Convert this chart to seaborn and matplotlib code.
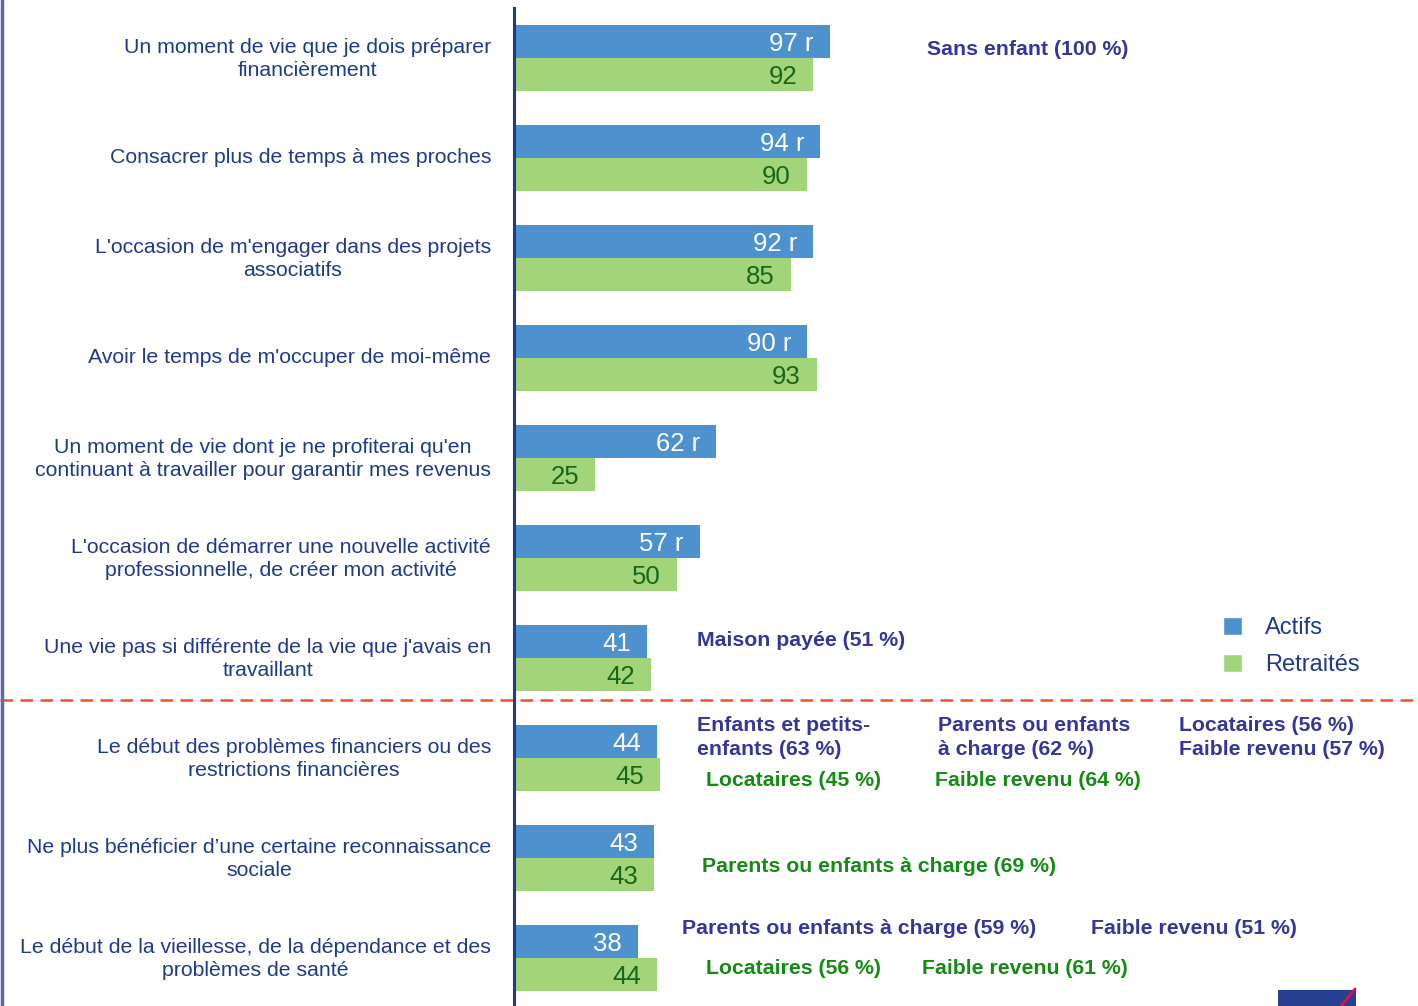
import pandas as pd
import matplotlib.pyplot as plt
import matplotlib.transforms as mtransforms
import seaborn as sns
from matplotlib.lines import Line2D
from matplotlib.patches import Rectangle, Patch

# ---------- DATA ----------
items = [
    "Un moment de vie que je dois préparer\nfinancièrement",
    "Consacrer plus de temps à mes proches",
    "L'occasion de m'engager dans des projets\nassociatifs",
    "Avoir le temps de m'occuper de moi-même",
    "Un moment de vie dont je ne profiterai qu'en\ncontinuant à travailler pour garantir mes revenus",
    "L'occasion de démarrer une nouvelle activité\nprofessionnelle, de créer mon activité",
    "Une vie pas si différente de la vie que j'avais en\ntravaillant",
    "Le début des problèmes financiers ou des\nrestrictions financières",
    "Ne plus bénéficier d’une certaine reconnaissance\nsociale",
    "Le début de la vieillesse, de la dépendance et des\nproblèmes de santé",
]
actifs = [97, 94, 92, 90, 62, 57, 41, 44, 43, 38]
retraites = [92, 90, 85, 93, 25, 50, 42, 45, 43, 44]
actifs_labels = ["97 r", "94 r", "92 r", "90 r", "62 r", "57 r", "41", "44", "43", "38"]
retraites_labels = [str(v) for v in retraites]
groups = ["Actifs", "Retraités"]

# sub-group notes: (text, x in %, y in category units, colour key)
notes = [
    ("Sans enfant (100 %)", 126.9, -0.10, "a"),
    ("Maison payée (51 %)", 56.2, 5.81, "a"),
    ("Enfants et petits-\nenfants (63 %)", 56.2, 6.775, "a"),
    ("Parents ou enfants\nà charge (62 %)", 130.3, 6.775, "a"),
    ("Locataires (56 %)\nFaible revenu (57 %)", 204.3, 6.775, "a"),
    ("Locataires (45 %)", 59.0, 7.21, "r"),
    ("Faible revenu (64 %)", 129.3, 7.21, "r"),
    ("Parents ou enfants à charge (69 %)", 57.8, 8.07, "r"),
    ("Parents ou enfants à charge (59 %)", 51.6, 8.69, "a"),
    ("Faible revenu (51 %)", 177.3, 8.69, "a"),
    ("Locataires (56 %)", 59.0, 9.09, "r"),
    ("Faible revenu (61 %)", 125.3, 9.09, "r"),
]

# ---------- STYLE ----------
BLUE = "#4d91ce"
GREEN = "#a2d47a"
DARK_BLUE = "#1f3a8a"
NOTE_BLUE = "#35359a"
NOTE_GREEN = "#158a15"
VAL_GREEN = "#17661a"

sns.set_style("white")
plt.rcParams["font.family"] = ["Liberation Sans", "DejaVu Sans"]

df = pd.DataFrame({
    "item": items * 2,
    "pct": actifs + retraites,
    "groupe": [groups[0]] * len(items) + [groups[1]] * len(items),
})

W, H = 1418, 1006
fig = plt.figure(figsize=(W / 100, H / 100), dpi=100)
ax = fig.add_axes([514 / W, -2 / H, 904 / W, 1000 / H])

sns.barplot(data=df, y="item", x="pct", hue="groupe", hue_order=groups,
            orient="h", palette=[BLUE, GREEN], saturation=1, width=0.66,
            linewidth=0, ax=ax, legend=False)

ax.set_xlim(0, 904 / 3.255)
ax.set_ylim(len(items) - 0.5, -0.5)
ax.set_xlabel("")
ax.set_ylabel("")
ax.xaxis.set_visible(False)
for side in ["top", "right", "bottom"]:
    ax.spines[side].set_visible(False)
ax.spines["left"].set_color(DARK_BLUE)
ax.spines["left"].set_linewidth(2.2)

# tick marks between categories, labels at centres
ax.set_yticks([i - 0.5 for i in range(len(items) + 1)], minor=True)
ax.tick_params(axis="y", which="minor", length=4.5, width=1.6, color=DARK_BLUE, direction="out")
ax.tick_params(axis="y", which="major", length=0, pad=16.5, labelsize=15.3, labelcolor=DARK_BLUE)
shift_up = mtransforms.ScaledTranslation(0, 2 / 72, fig.dpi_scale_trans)
for t in ax.get_yticklabels():
    t.set_multialignment("center")
    t.set_linespacing(1.24)
    t.set_transform(t.get_transform() + shift_up)

# ---------- VALUE LABELS ----------
for cont, labs, col in [(ax.containers[0], actifs_labels, "white"),
                        (ax.containers[1], retraites_labels, VAL_GREEN)]:
    anns = ax.bar_label(cont, labels=labs, padding=-11.5, color=col, fontsize=18.5)
    for a in anns:
        a.set_ha("right")
        a.set_va("center_baseline")

# ---------- NOTES ----------
for txt, x, y, c in notes:
    ax.text(x, y + 0.02, txt, color=NOTE_BLUE if c == "a" else NOTE_GREEN,
            fontsize=15.3, fontweight="bold", ha="left", va="center",
            linespacing=1.36, clip_on=False)

# ---------- LEGEND ----------
handles = [Patch(facecolor=BLUE), Patch(facecolor=GREEN)]
ax.legend(handles, groups, loc="upper left", bbox_to_anchor=(1211 / W, 1 - 605 / H),
          bbox_transform=fig.transFigure, frameon=False, fontsize=17,
          handlelength=0.8, handleheight=0.8, handletextpad=1.0,
          labelspacing=0.62, borderpad=0, labelcolor=DARK_BLUE)

# ---------- DECORATION ----------
fig.add_artist(Line2D([0, 1], [1 - 700 / H] * 2, transform=fig.transFigure,
                      color="#f0502e", lw=1.8, dashes=(5, 3)))
fig.add_artist(Line2D([1.5 / W] * 2, [0, 1], transform=fig.transFigure,
                      color="#5b6aa6", lw=2.5))
fig.add_artist(Rectangle((1278 / W, 0), 78 / W, 16 / H, transform=fig.transFigure,
                         facecolor="#263f8e", edgecolor="none"))
fig.add_artist(Line2D([1341 / W, 1355 / W], [0, 17 / H], transform=fig.transFigure,
                      color="#d5124f", lw=2))

fig.savefig("out.png", dpi=100)
